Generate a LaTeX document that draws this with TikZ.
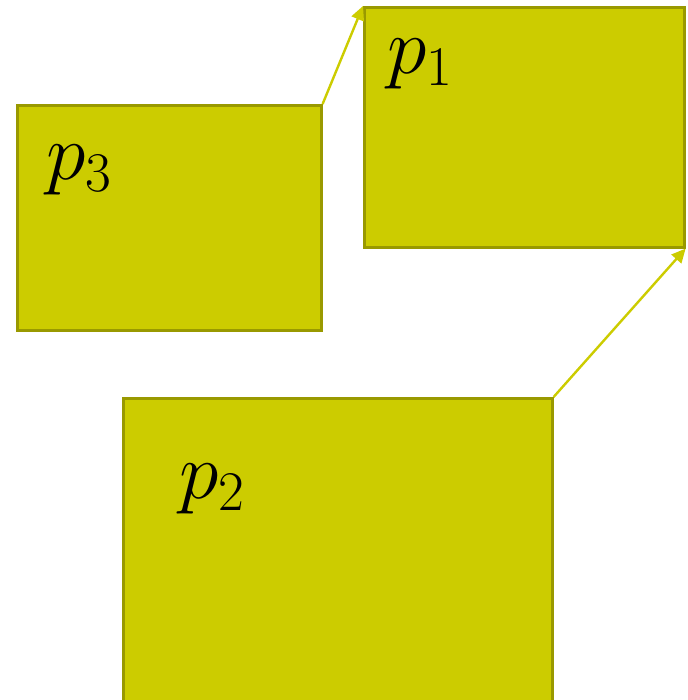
\RequirePackage{fix-cm}
\documentclass[tikz,border=0pt]{standalone}
\usepackage{xcolor}
\usepackage{tikz}
\usetikzlibrary{arrows.meta,positioning}
\definecolor{olv}{RGB}{204,204,0}
\definecolor{olvdark}{RGB}{153,153,0}

\begin{document}
\begin{tikzpicture}[x=0.5pt, y=-0.5pt,
  blk/.style={draw=olvdark, fill=olv, line width=1.3pt, anchor=north west, inner sep=0pt},
  lbl/.style={inner sep=0pt, font=\fontsize{40}{48}\selectfont},
  arr/.style={draw=olv, line width=1.2pt, -{Triangle[length=7pt,width=6.5pt]}}]
\clip (0,0) rectangle (687,700);
\node[blk, minimum width=160pt, minimum height=120pt] (p1) at (363,6) {};
\node[blk, minimum width=152pt, minimum height=112.5pt] (p3) at (16,104) {};
\node[blk, minimum width=214.5pt, minimum height=180pt] (p2) at (122,397) {};
\node[lbl, below right=16.5pt and 12pt of p1.north west] (t1) {$p_1$};
\node[lbl, below right=20.5pt and 15pt of p3.north west] (t3) {$p_3$};
\node[lbl, below right=33.5pt and 28.5pt of p2.north west] (t2) {$p_2$};
\draw[arr] (p3.north east) -- (p1.north west);
\draw[arr] (p2.north east) -- (p1.south east);
\end{tikzpicture}
\end{document}
